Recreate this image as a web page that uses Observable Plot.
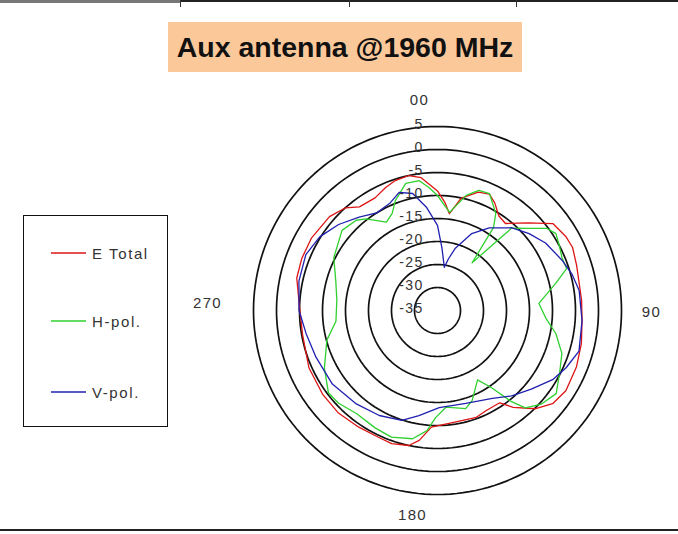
<!DOCTYPE html>
<html>
<head>
<meta charset="utf-8">
<script src="https://cdn.jsdelivr.net/npm/d3@7"></script>
<script src="https://cdn.jsdelivr.net/npm/@observablehq/plot@0.6"></script>
<style>
  body { margin: 0; background: #fff; font-family: "Liberation Sans", Arial, sans-serif; }
  #wrap { position: relative; width: 678px; height: 534px; overflow: hidden; background: #fff; }
  #chart { position: absolute; left: 0; top: 0; }
  #title { position: absolute; left: 168px; top: 22px; width: 354px; height: 50px; background: #fbc89a;
           display: flex; align-items: center; justify-content: center;
           font-weight: bold; font-size: 28.5px; color: #111; white-space: nowrap; }
  #legend { position: absolute; left: 23px; top: 215px; width: 143px; height: 210px; border: 1.5px solid #111; background: #fff; }
  .entry { position: absolute; left: 0; height: 20px; display: flex; align-items: center; }
  .entry svg { margin-left: 27px; }
  .entry span { margin-left: 6px; font-size: 15px; letter-spacing: 1.6px; color: #333; }
  .topline { position: absolute; top: 0; height: 2px; background: #222; }
  .tick { position: absolute; top: 0; width: 1px; height: 7px; background: #333; }
  #bottomline { position: absolute; left: 0; top: 529px; width: 678px; height: 2px; background: #222; }
</style>
</head>
<body>
<div id="wrap">
  <div class="topline" style="left:0;width:180px;height:3px;background:#777;"></div>
  <div class="topline" style="left:180px;width:498px;"></div>
  <div class="tick" style="left:180px"></div>
  <div class="tick" style="left:349px"></div>
  <div class="tick" style="left:516px"></div>
  <div id="bottomline"></div>
  <div id="chart"></div>
  <div id="title">Aux antenna @1960 MHz</div>
  <div id="legend"></div>
</div>
<script>
// ---- data (angle in degrees clockwise from top, level in dB) ----
const eTotalAngles = [0,4,7,12,19,24,28,33,38,46,53,60,65,72,78,86,94,103,112,122,129,135,142,146,154,160,167,173,183,188,192,199,205,214,224,234,246,260,274,283,291,300,311,318,323,331,337,342,348,353];
const eTotalDb     = [-9,-11.5,-13.8,-10,-7.8,-7.3,-8.5,-10.5,-11,-7.6,-3.6,-2.8,-2.6,-3.2,-3.6,-3.6,-3.5,-2.9,-2.4,-2.1,-2.8,-4.8,-8.3,-10.8,-10.8,-10.3,-10.5,-10.4,-9.6,-6.5,-5,-4.4,-4.6,-4.4,-4,-4.1,-4.4,-5.2,-4.8,-3.6,-3.4,-3.4,-3.9,-5,-6.8,-7,-6,-5.3,-5,-5.9];

const hPolAngles = [0,7,14,19,24,31,34,36,39,42,48,53,57,62,67,72,77,86,94,101,109,117,125,132,138,141,145,150,159,164,175,181,185,191,200,208,218,227,233,243,255,264,276,286,297,310,318,322,330,335,339,346,352,356];
const hPolDb     = [-10,-13.5,-9.2,-7.4,-7.2,-10.4,-13.2,-22.2,-18.2,-10.9,-8.3,-5.3,-4.3,-5,-5.6,-5.5,-8.6,-12.9,-11.4,-8.8,-6.4,-5.2,-3.5,-4.6,-6.5,-9.6,-14.5,-17.6,-14,-12.8,-13.9,-11.7,-8.8,-6.6,-5.7,-6.1,-6.5,-5.5,-5.3,-7.4,-10.1,-12.8,-13,-12,-9.7,-7.9,-8.6,-9.7,-12.8,-11.7,-9.4,-6.5,-6.5,-8.2];

const vPolAngles = [0,4,9,12,16,24,32,42,50,58,68,75,82,94,106,114,121,130,139,148,163,179,190,198,209,221,235,249,260,270,282,293,302,311,320,328,336,342,348,354];
const vPolDb     = [-16.5,-21.3,-25.5,-23.5,-20.9,-16.7,-13.8,-10.8,-9,-7.3,-5.8,-4.7,-3.9,-3.5,-3,-4.4,-5.8,-8.4,-10.4,-12.5,-13.9,-13.9,-11.8,-9.9,-8.9,-8.1,-7.1,-6.7,-6,-4.9,-4.2,-3.9,-4.8,-6.5,-8.5,-10,-9.5,-8,-9,-12.5];

const seriesNames  = ["E Total", "H-pol.", "V-pol."];
const seriesColors = ["#dd1414", "#2fd02f", "#2020b0"];

const ringDb       = [-30, -25, -20, -15, -10, -5, 0, 5];
const ringLabelDb  = [-35, -30, -25, -20, -15, -10, -5, 0, 5];
const dirAngles    = [0, 90, 180, 270];
const dirLabels    = ["00", "90", "180", "270"];

// ---- helpers ----
const minDb = -35;          // centre of the chart
const lon = (a) => 180 - a; // compass angle -> longitude for the polar projection
const lat = (db) => 90 - (db - minDb);

function rowsFor(name, angles, dbs) {
  const r = angles.map((a, i) => ({series: name, angle: a, db: dbs[i]}));
  r.push({series: name, angle: angles[0] + 360, db: dbs[0]});
  return r;
}
const rows = [
  ...rowsFor(seriesNames[0], eTotalAngles, eTotalDb),
  ...rowsFor(seriesNames[1], hPolAngles, hPolDb),
  ...rowsFor(seriesNames[2], vPolAngles, vPolDb)
];

const dirOffsets = [[-18, -3], [7, 2], [-25, -2], [-23, -7]];

const chart = Plot.plot({
  width: 678,
  height: 534,
  marginLeft: 253, marginRight: 57, marginTop: 126, marginBottom: 40,
  projection: {
    type: "azimuthal-equidistant",
    rotate: [0, -90],
    domain: d3.geoCircle().center([0, 90]).radius(40)(),
    clip: false
  },
  color: {domain: seriesNames, range: seriesColors},
  style: {fontFamily: "'Liberation Sans', Arial, sans-serif", background: "transparent", letterSpacing: "1.3px"},
  marks: [
    Plot.geo(ringDb, {
      geometry: (v) => d3.geoCircle().center([0, 90]).radius(v - minDb).precision(2)(),
      stroke: "#111", strokeWidth: 1.7, fill: "none"
    }),
    Plot.line(rows, {
      x: (d) => lon(d.angle), y: (d) => lat(d.db), z: "series",
      stroke: "series", strokeWidth: 1.3, curve: "linear"
    }),
    Plot.text(ringLabelDb, {
      x: lon(0), y: (v) => lat(v), text: (v) => String(v),
      textAnchor: "end", dx: -14, dy: -2, fontSize: 14, fill: "#333"
    }),
    ...dirAngles.map((a, i) => Plot.text([a], {
      x: (d) => lon(d), y: lat(minDb + 45), text: () => dirLabels[i],
      dx: dirOffsets[i][0], dy: dirOffsets[i][1], fontSize: 15, fill: "#333"
    }))
  ]
});
document.getElementById("chart").appendChild(chart);

// legend
const legend = document.getElementById("legend");
const entryTops = [27, 95, 166];
seriesNames.forEach((name, i) => {
  const e = document.createElement("div");
  e.className = "entry";
  e.style.top = entryTops[i] + "px";
  e.innerHTML = `<svg width="35" height="4"><line x1="0" y1="2" x2="35" y2="2" stroke="${seriesColors[i]}" stroke-width="1.5"/></svg><span>${name}</span>`;
  legend.appendChild(e);
});
</script>
</body>
</html>
